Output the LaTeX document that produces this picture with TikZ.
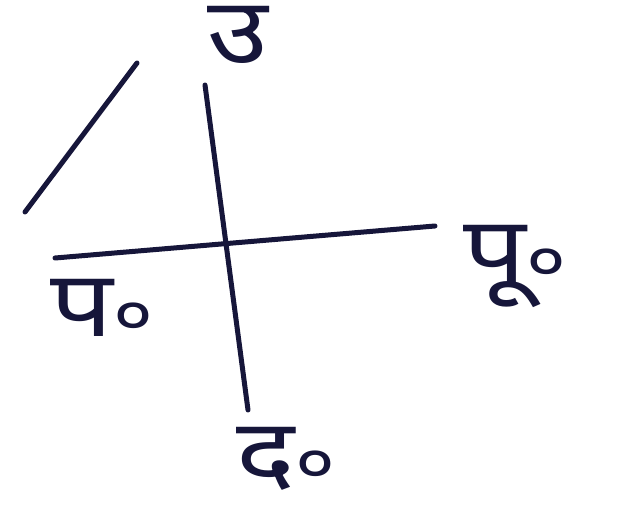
\documentclass[tikz,border=0pt]{standalone}
\usepackage{fontspec}
\newfontfamily\dev[Script=Devanagari]{Noto Sans}
\definecolor{ink}{HTML}{16163A}
\newcommand{\abbr}{{\fontsize{64}{64}\selectfont ०}}
\begin{document}
\begin{tikzpicture}[x=1pt,y=-1pt,
  stroke/.style={draw=ink,line width=5pt,line cap=round},
  lbl/.style={text=ink,inner sep=0pt,anchor=base,xscale=1.2,text height=0.6em,text depth=0.2em,font=\dev\fontsize{92}{100}\selectfont}]
\useasboundingbox[fill=white] (0,0) rectangle (639,521);
\coordinate (nt) at (205,85);
\coordinate (sb) at (248,410);
\coordinate (wl) at (55,258);
\coordinate (er) at (435,226);
\coordinate (s1) at (25,212);
\coordinate (s2) at (137,63);
\draw[stroke] (nt) -- (sb);
\draw[stroke] (wl) -- (er);
\draw[stroke] (s1) -- (s2);
\node[lbl] (north) at (238,64) {उ};
\node[lbl] (east) at (515,282) {पू\abbr};
\node[lbl] (west) at (102,336) {प\abbr};
\node[lbl] (south) at (286,484) {द\abbr};
\end{tikzpicture}
\end{document}
